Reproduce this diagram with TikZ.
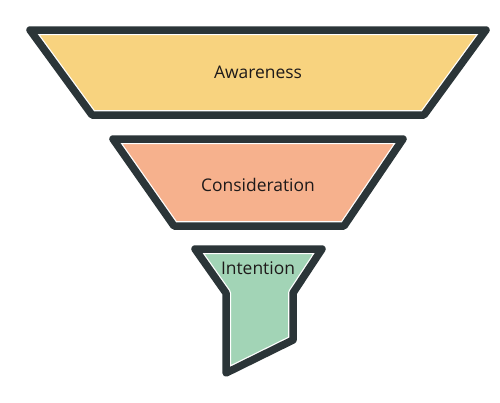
\documentclass[tikz,border=0pt]{standalone}
\usepackage{fontspec}
\setmainfont{Open Sans}
\definecolor{edge}{HTML}{2B3538}
\definecolor{aware}{HTML}{F8D37F}
\definecolor{consider}{HTML}{F6B18D}
\definecolor{intent}{HTML}{A2D4B6}
\definecolor{ink}{HTML}{1E1A1A}
\usetikzlibrary{positioning}

\begin{document}
\begin{tikzpicture}[x=1bp,y=-1bp,line join=round,every node/.style={font=\fontsize{17.5}{20}\selectfont,text=ink}]
\useasboundingbox (0,0) rectangle (500,402);
\tikzset{stage/.style={fill=#1},
  rim/.style={draw=white,line width=10bp},
  edgeline/.style={draw=edge,line width=7.5bp}}
% awareness
\path[stage=aware] (30,30) -- (486,30) -- (424,115) -- (92,115) -- cycle;
\path[rim] (30,30) -- (486,30) -- (424,115) -- (92,115) -- cycle;
\path[edgeline] (30,30) -- (486,30) -- (424,115) -- (92,115) -- cycle;
% consideration
\path[stage=consider] (113,139) -- (403,139) -- (344,226) -- (174,226) -- cycle;
\path[rim] (113,139) -- (403,139) -- (344,226) -- (174,226) -- cycle;
\path[edgeline] (113,139) -- (403,139) -- (344,226) -- (174,226) -- cycle;
% intention
\path[stage=intent] (195,249) -- (322,249) -- (293,293) -- (293,340) -- (226,373) -- (226,293) -- cycle;
\path[rim] (195,249) -- (322,249) -- (293,293) -- (293,340) -- (226,373) -- (226,293) -- cycle;
\path[edgeline] (195,249) -- (322,249) -- (293,293) -- (293,340) -- (226,373) -- (226,293) -- cycle;
\node (aw) at (258,72) {Awareness};
\node (co) at (258,185) {Consideration};
\node (in) at (258,268) {Intention};
\end{tikzpicture}
\end{document}
